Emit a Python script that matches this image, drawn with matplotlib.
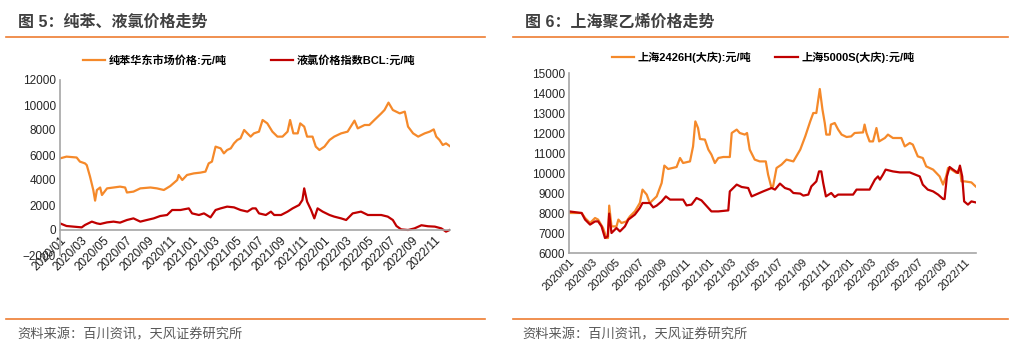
import pandas as pd
import matplotlib
matplotlib.use("Agg")
import matplotlib.pyplot as plt
import matplotlib.dates as mdates
from matplotlib.lines import Line2D

plt.rcParams['font.family'] = ['Liberation Sans', 'Noto Sans CJK SC']

# 图5 纯苯华东市场价格:元/吨
benzene_dates = [
    "2020-01-01", "2020-01-19", "2020-02-16", "2020-02-25", "2020-03-10", "2020-03-15",
    "2020-03-24", "2020-04-02", "2020-04-07", "2020-04-12", "2020-04-21", "2020-04-26",
    "2020-05-10", "2020-05-28", "2020-06-15", "2020-06-29", "2020-07-04", "2020-07-22",
    "2020-08-10", "2020-09-07", "2020-09-25", "2020-10-14", "2020-11-01", "2020-11-20",
    "2020-11-24", "2020-12-04", "2020-12-17", "2021-01-05", "2021-01-23", "2021-02-06",
    "2021-02-15", "2021-02-24", "2021-03-06", "2021-03-20", "2021-03-29", "2021-04-07",
    "2021-04-17", "2021-04-26", "2021-05-05", "2021-05-14", "2021-05-24", "2021-06-02",
    "2021-06-11", "2021-06-20", "2021-07-04", "2021-07-14", "2021-07-27", "2021-08-10",
    "2021-08-24", "2021-09-07", "2021-09-21", "2021-09-28", "2021-10-07", "2021-10-19",
    "2021-10-26", "2021-11-06", "2021-11-14", "2021-11-29", "2021-12-08", "2021-12-18",
    "2022-01-01", "2022-01-15", "2022-01-28", "2022-02-16", "2022-03-06", "2022-03-25",
    "2022-04-03", "2022-04-22", "2022-05-05", "2022-05-19", "2022-06-07", "2022-06-16",
    "2022-06-27", "2022-07-09", "2022-07-28", "2022-08-11", "2022-08-20", "2022-09-03",
    "2022-09-17", "2022-10-05", "2022-10-19", "2022-10-30", "2022-11-06", "2022-11-15",
    "2022-11-24", "2022-12-03", "2022-12-13",
]
benzene = [
    5730, 5870, 5800, 5470, 5330, 5190,
    4270, 3200, 2350, 3200, 3400, 2800,
    3330, 3400, 3470, 3400, 3000, 3070,
    3330, 3400, 3330, 3200, 3520, 4000,
    4400, 4000, 4400, 4530, 4590, 4670,
    5330, 5470, 6670, 6530, 6130, 6400,
    6530, 6930, 7200, 7330, 8000, 7730,
    7470, 7730, 7870, 8800, 8530, 7870,
    7470, 7470, 7870, 8800, 7730, 7730,
    8530, 8270, 7470, 7470, 6670, 6400,
    6670, 7200, 7470, 7730, 7870, 8750,
    8130, 8400, 8400, 8800, 9330, 9600,
    10190, 9600, 9330, 9470, 8270, 7730,
    7470, 7730, 7870, 8050, 7470, 7200,
    6800, 6930, 6720,
]

# 液氯价格指数BCL:元/吨
chlorine_dates = [
    "2020-01-01", "2020-01-19", "2020-02-07", "2020-03-01", "2020-03-10", "2020-03-29",
    "2020-04-12", "2020-04-21", "2020-05-10", "2020-05-28", "2020-06-15", "2020-07-04",
    "2020-07-22", "2020-08-10", "2020-08-28", "2020-09-16", "2020-10-04", "2020-10-23",
    "2020-11-06", "2020-11-29", "2020-12-22", "2020-12-31", "2021-01-19", "2021-02-02",
    "2021-02-20", "2021-03-06", "2021-03-20", "2021-04-07", "2021-04-26", "2021-05-14",
    "2021-06-02", "2021-06-16", "2021-06-25", "2021-07-04", "2021-07-23", "2021-08-06",
    "2021-08-15", "2021-09-03", "2021-09-21", "2021-10-05", "2021-10-23", "2021-11-01",
    "2021-11-06", "2021-11-14", "2021-11-25", "2021-12-04", "2021-12-13", "2021-12-27",
    "2022-01-15", "2022-01-28", "2022-02-16", "2022-03-02", "2022-03-20", "2022-04-12",
    "2022-05-01", "2022-05-19", "2022-06-07", "2022-06-25", "2022-07-09", "2022-07-19",
    "2022-08-01", "2022-08-20", "2022-09-07", "2022-09-26", "2022-10-14", "2022-11-02",
    "2022-11-20", "2022-12-03", "2022-12-13",
]
chlorine = [
    530, 320, 270, 210, 400, 670,
    530, 480, 610, 670, 590, 800,
    930, 670, 800, 930, 1120, 1200,
    1600, 1600, 1730, 1330, 1200, 1330,
    1010, 1600, 1730, 1870, 1810, 1600,
    1470, 1730, 1730, 1330, 1200, 1470,
    1200, 1200, 1470, 1730, 2000, 2400,
    3330, 2270, 1600, 930, 1730, 1470,
    1200, 1070, 930, 800, 1330, 1470,
    1200, 1200, 1200, 1070, 800, 320,
    50, 0, 130, 380, 300, 270,
    130, -130, 0,
]

# 图6 上海2426H(大庆):元/吨
pe2426h_dates = [
    "2020-01-01", "2020-02-03", "2020-02-12", "2020-02-25", "2020-03-09", "2020-03-17",
    "2020-03-30", "2020-04-08", "2020-04-12", "2020-04-15", "2020-04-21", "2020-05-04",
    "2020-05-09", "2020-05-17", "2020-05-30", "2020-06-08", "2020-06-21", "2020-07-04",
    "2020-07-11", "2020-07-22", "2020-07-30", "2020-08-17", "2020-08-30", "2020-09-06",
    "2020-09-16", "2020-10-08", "2020-10-17", "2020-10-25", "2020-11-12", "2020-11-20",
    "2020-11-26", "2020-12-03", "2020-12-08", "2020-12-21", "2020-12-30", "2021-01-07",
    "2021-01-16", "2021-01-25", "2021-02-07", "2021-02-24", "2021-03-01", "2021-03-14",
    "2021-03-22", "2021-04-04", "2021-04-10", "2021-04-17", "2021-04-30", "2021-05-13",
    "2021-05-29", "2021-06-04", "2021-06-13", "2021-06-17", "2021-06-26", "2021-07-09",
    "2021-07-22", "2021-08-09", "2021-08-27", "2021-09-09", "2021-09-22", "2021-09-30",
    "2021-10-08", "2021-10-17", "2021-10-24", "2021-10-30", "2021-11-03", "2021-11-12",
    "2021-11-15", "2021-11-25", "2021-12-04", "2021-12-13", "2021-12-26", "2022-01-07",
    "2022-01-16", "2022-02-07", "2022-02-11", "2022-02-16", "2022-02-24", "2022-03-05",
    "2022-03-14", "2022-03-21", "2022-04-05", "2022-04-13", "2022-04-26", "2022-05-18",
    "2022-05-27", "2022-06-09", "2022-06-17", "2022-06-30", "2022-07-13", "2022-07-22",
    "2022-08-09", "2022-08-26", "2022-09-04", "2022-09-12", "2022-09-17", "2022-09-26",
    "2022-10-09", "2022-10-18", "2022-10-22", "2022-10-31", "2022-11-17", "2022-11-28",
]
pe2426h = [
    8000, 8000, 7750, 7500, 7750, 7670,
    7250, 6750, 6750, 8370, 7330, 7330,
    7670, 7500, 7580, 7830, 8080, 8500,
    9170, 8920, 8500, 8830, 9500, 10370,
    10200, 10300, 10750, 10500, 10580, 11330,
    12580, 12250, 11700, 11670, 11170, 10920,
    10500, 10750, 10800, 10800, 12000, 12170,
    12000, 11920, 12000, 11170, 10670, 10580,
    10580, 9920, 9250, 9330, 10250, 10420,
    10670, 10580, 11170, 11830, 12580, 13000,
    13000, 14200, 13170, 12500, 11920, 11920,
    12420, 12500, 12170, 11920, 11800, 11830,
    12000, 12030, 12420, 12000, 11580, 11580,
    12250, 11580, 11750, 11920, 11750, 11750,
    11330, 11500, 11420, 10830, 10750, 10330,
    10170, 9830, 9420, 9830, 10250, 10170,
    10000, 10250, 9580, 9580, 9530, 9330,
]

# 上海5000S(大庆):元/吨
pe5000s_dates = [
    "2020-01-01", "2020-02-03", "2020-02-12", "2020-02-25", "2020-03-09", "2020-03-17",
    "2020-03-26", "2020-04-04", "2020-04-11", "2020-04-15", "2020-04-21", "2020-05-04",
    "2020-05-13", "2020-05-26", "2020-06-04", "2020-06-21", "2020-07-04", "2020-07-11",
    "2020-07-30", "2020-08-08", "2020-08-17", "2020-08-30", "2020-09-10", "2020-09-21",
    "2020-10-25", "2020-11-03", "2020-11-16", "2020-11-29", "2020-12-12", "2020-12-30",
    "2021-01-07", "2021-01-25", "2021-02-20", "2021-02-24", "2021-03-14", "2021-03-27",
    "2021-04-13", "2021-04-22", "2021-05-22", "2021-06-13", "2021-06-22", "2021-07-05",
    "2021-07-18", "2021-07-31", "2021-08-09", "2021-08-27", "2021-09-04", "2021-09-17",
    "2021-09-25", "2021-10-08", "2021-10-15", "2021-10-21", "2021-10-26", "2021-11-02",
    "2021-11-16", "2021-11-25", "2021-12-04", "2021-12-17", "2022-01-12", "2022-01-21",
    "2022-02-24", "2022-03-10", "2022-03-18", "2022-03-23", "2022-03-31", "2022-04-07",
    "2022-04-26", "2022-05-14", "2022-06-09", "2022-07-05", "2022-07-13", "2022-07-26",
    "2022-08-09", "2022-08-22", "2022-09-04", "2022-09-08", "2022-09-14", "2022-09-21",
    "2022-09-30", "2022-10-13", "2022-10-18", "2022-10-24", "2022-10-29", "2022-11-08",
    "2022-11-17", "2022-11-28",
]
pe5000s = [
    8080, 8000, 7670, 7420, 7580, 7580,
    7330, 6750, 6830, 7970, 7000, 7250,
    7080, 7330, 7670, 7920, 8250, 8500,
    8500, 8280, 8370, 8580, 8830, 8670,
    8670, 8380, 8420, 8750, 8630, 8250,
    8080, 8080, 8130, 9080, 9420, 9300,
    9250, 8830, 9080, 9250, 9170, 9470,
    9250, 9170, 9000, 8970, 8870, 8920,
    9330, 9580, 10080, 10080, 9500, 8830,
    9000, 8800, 8920, 8920, 8920, 9170,
    9170, 9670, 9830, 9670, 9920, 10170,
    10080, 10030, 10030, 9830, 9420, 9170,
    9080, 8920, 8700, 8700, 9830, 10300,
    10170, 10000, 10370, 9830, 8580, 8420,
    8580, 8530,
]

orange = '#F5892A'
red = '#C00000'
grey_axis = '#A6A6A6'
title_color = '#404040'

fig = plt.figure(figsize=(10.2, 3.55), dpi=100)
W, H = 1020, 355


def box(l, t, r, b):
    return [l / W, 1 - b / H, (r - l) / W, (b - t) / H]


def style_axis(ax, label_size):
    for s in ['top', 'right']:
        ax.spines[s].set_visible(False)
    ax.spines['left'].set_color(grey_axis)
    ax.spines['bottom'].set_color(grey_axis)
    ax.spines['left'].set_linewidth(1.2)
    ax.spines['bottom'].set_linewidth(1.2)
    ax.tick_params(length=0, labelsize=8.5, colors='#262626', pad=3)
    ax.xaxis.set_major_locator(mdates.MonthLocator(bymonth=[1, 3, 5, 7, 9, 11]))
    ax.xaxis.set_major_formatter(mdates.DateFormatter('%Y/%m'))
    for lab in ax.get_xticklabels():
        lab.set_rotation(45)
        lab.set_ha('right')
        lab.set_rotation_mode('anchor')
        lab.set_fontsize(label_size)
        lab.set_color('#1a1a1a')


# left chart
ax1 = fig.add_axes(box(60, 80, 450, 255))
ax1.plot(pd.to_datetime(benzene_dates), benzene, color=orange, lw=1.6,
         label='纯苯华东市场价格:元/吨')
ax1.plot(pd.to_datetime(chlorine_dates), chlorine, color=red, lw=1.6,
         label='液氯价格指数BCL:元/吨')
ax1.set_ylim(-2000, 12000)
ax1.set_yticks(range(-2000, 12001, 2000))
ax1.set_xlim(pd.Timestamp('2020-01-01'), pd.Timestamp('2022-12-14'))
ax1.spines['bottom'].set_position(('data', 0))
style_axis(ax1, 8.5)
ax1.legend(loc='center', bbox_to_anchor=(249 / W, 1 - 60 / H), bbox_transform=fig.transFigure,
           ncol=2, frameon=False, handlelength=2.0, handletextpad=0.3, columnspacing=4.0,
           prop={'weight': 'bold', 'size': 8})

# right chart
ax2 = fig.add_axes(box(569, 73, 976, 253))
ax2.plot(pd.to_datetime(pe2426h_dates), pe2426h, color=orange, lw=1.6,
         label='上海2426H(大庆):元/吨')
ax2.plot(pd.to_datetime(pe5000s_dates), pe5000s, color=red, lw=1.6,
         label='上海5000S(大庆):元/吨')
ax2.set_ylim(6000, 15000)
ax2.set_yticks(range(6000, 15001, 1000))
ax2.set_xlim(pd.Timestamp('2020-01-01'), pd.Timestamp('2022-11-29'))
style_axis(ax2, 8)
ax2.legend(loc='center', bbox_to_anchor=(763 / W, 1 - 57 / H), bbox_transform=fig.transFigure,
           ncol=2, frameon=False, handlelength=2.0, handletextpad=0.3, columnspacing=2.2,
           prop={'weight': 'bold', 'size': 8})

# titles, rules, sources
fig.text(18 / W, 1 - 22 / H, '图 5：纯苯、液氯价格走势', fontsize=11.5, fontweight='bold',
         color=title_color, va='center')
fig.text(525 / W, 1 - 22 / H, '图 6：上海聚乙烯价格走势', fontsize=11.5, fontweight='bold',
         color=title_color, va='center')
for (x0, x1) in [(6, 485), (513, 1008)]:
    for y in (37, 319):
        fig.add_artist(Line2D([x0 / W, x1 / W], [1 - y / H, 1 - y / H], color='#ED7D31', lw=1.2))
fig.text(17 / W, 1 - 335 / H, '资料来源：百川资讯，天风证券研究所', fontsize=9.5,
         color='#595959', va='center')
fig.text(522 / W, 1 - 335 / H, '资料来源：百川资讯，天风证券研究所', fontsize=9.5,
         color='#595959', va='center')

fig.savefig('out.png', dpi=100)
